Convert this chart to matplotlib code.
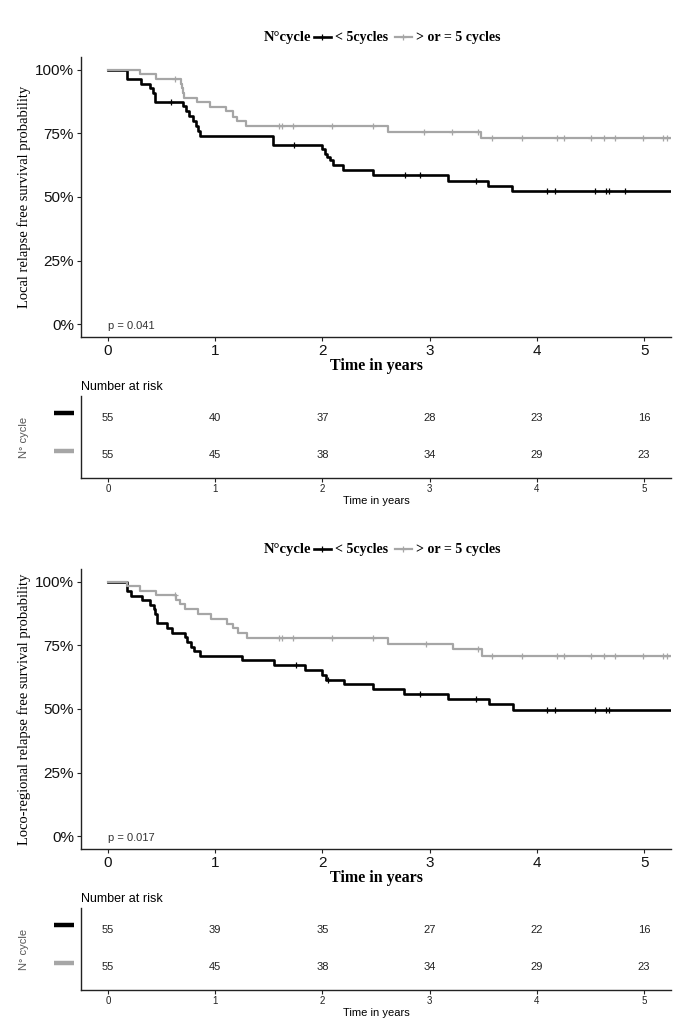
import numpy as np
import matplotlib
matplotlib.use("Agg")
import matplotlib.pyplot as plt
from matplotlib.lines import Line2D

# ---------------- data ----------------
group_labels = ["< 5cycles", "> or = 5 cycles"]
legend_title = "N°cycle"
group_colors = ["#000000", "#A6A6A6"]
t_end = 5.25

# Panel 1: local relapse free survival
lr_lt5_times = [0, 0.18, 0.31, 0.39, 0.42, 0.44, 0.70, 0.73, 0.76, 0.79, 0.82, 0.84, 0.86,
                1.54, 2.00, 2.02, 2.04, 2.07, 2.10, 2.19, 2.47, 3.17, 3.54, 3.77]
lr_lt5_surv = [1.0, 0.964, 0.945, 0.927, 0.909, 0.873, 0.856, 0.838, 0.818, 0.797, 0.777, 0.758, 0.740,
               0.703, 0.688, 0.669, 0.656, 0.645, 0.626, 0.606, 0.587, 0.564, 0.545, 0.522]
lr_lt5_cens = [0.59, 1.74, 2.77, 2.91, 3.43, 4.09, 4.17, 4.54, 4.64, 4.67, 4.82]

lr_ge5_times = [0, 0.30, 0.45, 0.68, 0.69, 0.70, 0.71, 0.83, 0.95, 1.10, 1.17, 1.20, 1.29, 2.61, 3.48]
lr_ge5_surv = [1.0, 0.982, 0.964, 0.945, 0.927, 0.909, 0.889, 0.872, 0.854, 0.836, 0.816, 0.797, 0.777,
               0.756, 0.730]
lr_ge5_cens = [0.63, 1.60, 1.62, 1.73, 2.09, 2.47, 2.95, 3.21, 3.45, 3.58, 3.86, 4.19, 4.25,
               4.50, 4.63, 4.73, 4.99, 5.18, 5.21]

# Panel 2: loco-regional relapse free survival
lrr_lt5_times = [0, 0.177, 0.22, 0.32, 0.39, 0.43, 0.44, 0.457, 0.55, 0.60, 0.715, 0.74, 0.78, 0.80, 0.86,
                 1.25, 1.55, 1.84, 2.00, 2.03, 2.20, 2.47, 2.76, 3.17, 3.55, 3.78]
lrr_lt5_surv = [1.0, 0.964, 0.945, 0.927, 0.909, 0.891, 0.873, 0.836, 0.818, 0.800, 0.782, 0.764, 0.745,
                0.727, 0.709, 0.691, 0.673, 0.654, 0.635, 0.615, 0.597, 0.578, 0.559, 0.539, 0.518, 0.495]
lrr_lt5_cens = [1.75, 2.05, 2.91, 3.43, 4.09, 4.17, 4.54, 4.64, 4.67]

lrr_ge5_times = [0, 0.177, 0.30, 0.45, 0.64, 0.675, 0.715, 0.845, 0.96, 1.11, 1.17, 1.21, 1.30,
                 2.61, 3.22, 3.49]
lrr_ge5_surv = [1.0, 0.982, 0.964, 0.946, 0.929, 0.911, 0.892, 0.872, 0.852, 0.835, 0.817, 0.797, 0.777,
                0.756, 0.734, 0.710]
lrr_ge5_cens = [0.63, 1.60, 1.62, 1.73, 2.09, 2.47, 2.97, 3.45, 3.58, 3.86, 4.19, 4.25,
                4.50, 4.63, 4.73, 4.99, 5.18, 5.21]

risk_times = [0, 1, 2, 3, 4, 5]
lr_risk_lt5 = [55, 40, 37, 28, 23, 16]
lr_risk_ge5 = [55, 45, 38, 34, 29, 23]
lrr_risk_lt5 = [55, 39, 35, 27, 22, 16]
lrr_risk_ge5 = [55, 45, 38, 34, 29, 23]

p_values = ["p = 0.041", "p = 0.017"]
y_titles = ["Local relapse free survival probability",
            "Loco-regional relapse free survival probability"]
y_ticks = [0, 0.25, 0.5, 0.75, 1.0]
y_ticklabels = ["0%", "25%", "50%", "75%", "100%"]

# ---------------- figure ----------------
W, H = 698, 1019
fig = plt.figure(figsize=(W / 100, H / 100), dpi=100)

SANS = "Liberation Sans"
SERIF = "Liberation Serif"


def fx(px):
    return px / W


def fy(py):
    return 1 - py / H


def draw_km(ax, times, surv, cens, color, lw):
    t = list(times) + [t_end]
    s = list(surv) + [surv[-1]]
    ax.step(t, s, where="post", color=color, lw=lw)
    idx = np.searchsorted(np.array(times), np.array(cens), side="right") - 1
    cs = np.array(surv)[idx]
    ax.plot(cens, cs, linestyle="none", marker="+", ms=5, mew=0.9, color=color)


panels = [
    dict(curves=[(lr_lt5_times, lr_lt5_surv, lr_lt5_cens), (lr_ge5_times, lr_ge5_surv, lr_ge5_cens)],
         risk=[lr_risk_lt5, lr_risk_ge5], off=0),
    dict(curves=[(lrr_lt5_times, lrr_lt5_surv, lrr_lt5_cens), (lrr_ge5_times, lrr_ge5_surv, lrr_ge5_cens)],
         risk=[lrr_risk_lt5, lrr_risk_ge5], off=512),
]

left_px, right_px = 81, 671

for k, p in enumerate(panels):
    off = p["off"]
    # main axes
    top, bot = 57 + off, 337 + off
    ax = fig.add_axes([fx(left_px), fy(bot), fx(right_px - left_px), (bot - top) / H])
    lws = [1.9, 1.6]
    for g in range(2):
        times, surv, cens = p["curves"][g]
        draw_km(ax, times, surv, cens, group_colors[g], lws[g])
    ax.set_xlim(-0.25, 5.25)
    ax.set_ylim(-0.05, 1.05)
    ax.set_yticks(y_ticks)
    ax.set_yticklabels(y_ticklabels)
    ax.set_xticks(risk_times)
    for s in ["top", "right"]:
        ax.spines[s].set_visible(False)
    for s in ["left", "bottom"]:
        ax.spines[s].set_linewidth(1.0)
        ax.spines[s].set_color("#222222")
    ax.tick_params(direction="out", length=3, width=0.8, color="#222222", labelsize=11, pad=2)
    for lab in ax.get_xticklabels() + ax.get_yticklabels():
        lab.set_fontfamily(SANS)
        lab.set_color("#111111")
    ax.set_xlabel("Time in years", fontfamily=SERIF, fontweight="bold", fontsize=11.5, labelpad=0)
    ax.set_ylabel(y_titles[k], fontfamily=SERIF, fontsize=10.5, labelpad=3)
    ax.text(0, -0.005, p_values[k], fontfamily=SANS, fontsize=8, color="#333333",
            ha="left", va="center")

    # legend
    ly = 38 + off
    fig.text(fx(311), fy(ly), legend_title, fontfamily=SERIF, fontweight="bold", fontsize=10.5,
             ha="right", va="center")
    handles = [Line2D([], [], color=group_colors[g], lw=lws[g], marker="+", ms=5, mew=0.9)
               for g in range(2)]
    fig.legend(handles, group_labels, loc="center left", bbox_to_anchor=(fx(314), fy(ly)),
               ncol=2, frameon=False, handlelength=1.2, handletextpad=0.3, columnspacing=0.5,
               borderpad=0, borderaxespad=0,
               prop=dict(family=SERIF, weight="bold", size=10))

    # risk table
    rtop, rbot = 396 + off, 478 + off
    axr = fig.add_axes([fx(left_px), fy(rbot), fx(right_px - left_px), (rbot - rtop) / H])
    axr.set_xlim(-0.25, 5.25)
    axr.set_ylim(0.38, 2.59)
    rows = [2, 1]
    for g in range(2):
        for t, n in zip(risk_times, p["risk"][g]):
            axr.text(t, rows[g], str(n), ha="center", va="center", fontfamily=SANS,
                     fontsize=8, color="#222222")
        axr.plot([-0.045, -0.012], [rows[g] + 0.12] * 2, transform=axr.get_yaxis_transform(),
                 color=group_colors[g], lw=3.2, clip_on=False, solid_capstyle="butt")
    axr.set_yticks([])
    axr.set_xticks(risk_times)
    for s in ["top", "right"]:
        axr.spines[s].set_visible(False)
    for s in ["left", "bottom"]:
        axr.spines[s].set_linewidth(1.0)
        axr.spines[s].set_color("#222222")
    axr.tick_params(direction="out", length=3, width=0.8, color="#222222", labelsize=7, pad=1.5)
    for lab in axr.get_xticklabels():
        lab.set_fontfamily(SANS)
        lab.set_color("#222222")
    axr.set_xlabel("Time in years", fontfamily=SANS, fontsize=8, labelpad=1)
    axr.set_title("Number at risk", loc="left", fontfamily=SANS, fontsize=9, pad=4)
    fig.text(fx(24), fy((rtop + rbot) / 2), "N° cycle", rotation=90, ha="center", va="center",
             fontfamily=SANS, fontsize=8, color="#555555")

fig.savefig("out.png", dpi=100)
